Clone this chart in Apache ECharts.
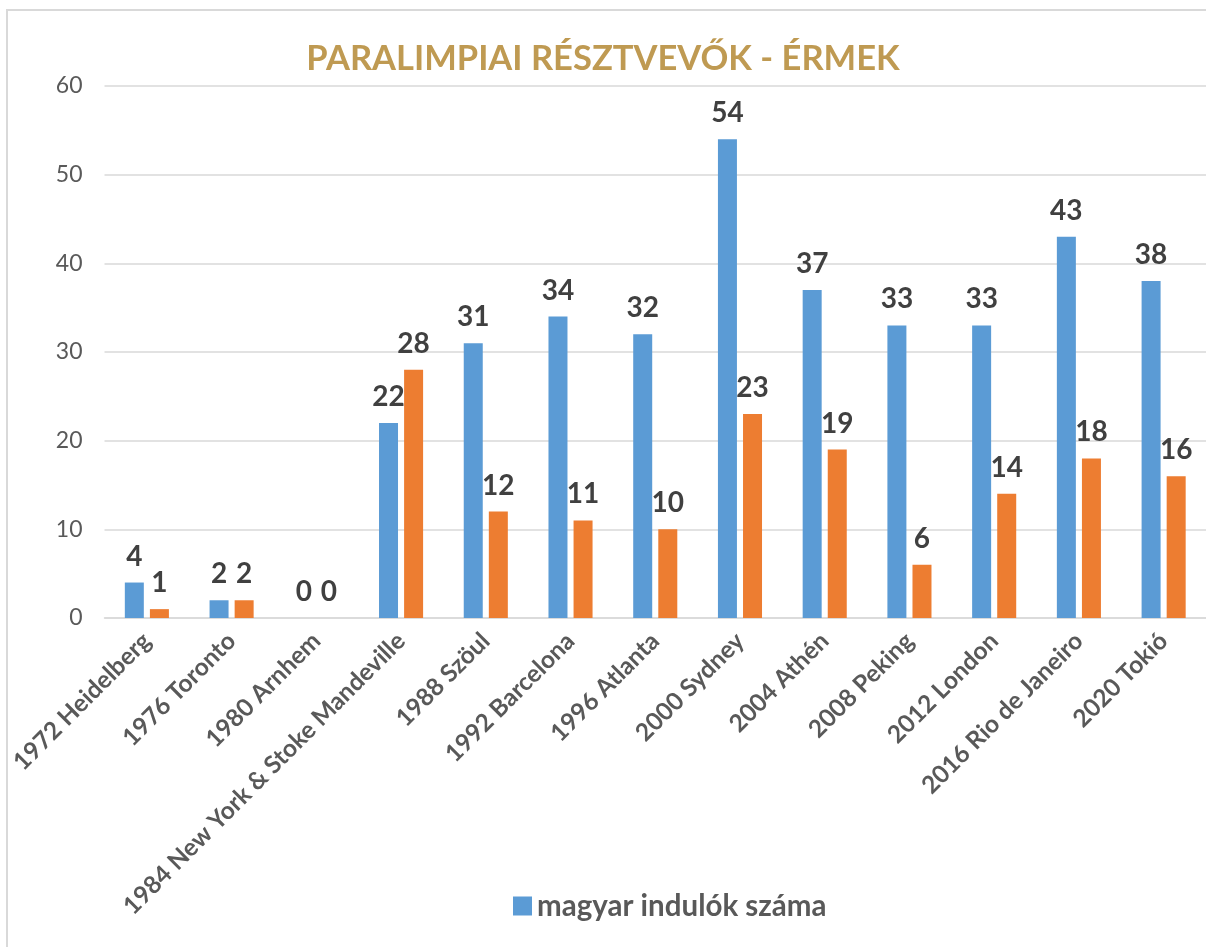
<!DOCTYPE html>
<html><head><meta charset="utf-8">
<script src="https://cdn.jsdelivr.net/npm/echarts@6/dist/echarts.min.js"></script>
<style>html,body{margin:0;padding:0;background:#fff}#c{width:1206px;height:947px}</style>
</head><body><div id="c"></div>
<script>
const categories = ['1972 Heidelberg','1976 Toronto','1980 Arnhem','1984 New York & Stoke Mandeville','1988 Szöul','1992 Barcelona','1996 Atlanta','2000 Sydney','2004 Athén','2008 Peking','2012 London','2016 Rio de Janeiro','2020 Tokió'];
const indulok = [4,2,0,22,31,34,32,54,37,33,33,43,38];
const ermek = [1,2,0,28,12,11,10,23,19,6,14,18,16];
const yTicks = {min:0, max:60, interval:10};

const FONT = 'Lato';
const chart = echarts.init(document.getElementById('c'), null, {renderer:'canvas'});
const labelStyle = {show:true, position:'top', distance:12, fontFamily:FONT, fontWeight:'bold', fontSize:28, color:'#404040'};
chart.setOption({
  animation:false,
  textStyle:{fontFamily:FONT},
  graphic:[{type:'rect', shape:{x:7,y:10,width:1400,height:1100}, style:{fill:'none', stroke:'#D9D9D9', lineWidth:2}, z:-1}],
  title:{text:'PARALIMPIAI RÉSZTVEVŐK - ÉRMEK', left:'center', top:36, textStyle:{fontFamily:FONT, fontWeight:'bold', fontSize:34.5, color:'#BF9A52'}},
  legend:{data:['magyar indulók száma'], left:508, top:886, itemWidth:19, itemHeight:19, itemGap:8, icon:'rect',
    textStyle:{fontFamily:FONT, fontWeight:'bold', fontSize:29.5, color:'#595959'}},
  grid:{left:104.5, top:86, width:1112.5, height:532},
  xAxis:{type:'category', data:categories,
    axisLine:{lineStyle:{color:'#D9D9D9', width:1.5}}, axisTick:{show:false},
    axisLabel:{interval:0, rotate:45, margin:19, fontFamily:FONT, fontWeight:'bold', fontSize:24.5, color:'#595959'}},
  yAxis:{type:'value', min:yTicks.min, max:yTicks.max, interval:yTicks.interval,
    axisLine:{show:false}, axisTick:{show:false},
    splitLine:{lineStyle:{color:'#D9D9D9', width:1.5}},
    axisLabel:{margin:22, fontFamily:FONT, fontSize:23, color:'#595959'}},
  series:[
    {name:'magyar indulók száma', type:'bar', data:indulok, barWidth:19, barGap:'32%', itemStyle:{color:'#5B9BD5'}, label:labelStyle},
    {name:'érmek száma', type:'bar', data:ermek, barWidth:19, itemStyle:{color:'#ED7D31'}, label:labelStyle}
  ]
});
</script></body></html>
